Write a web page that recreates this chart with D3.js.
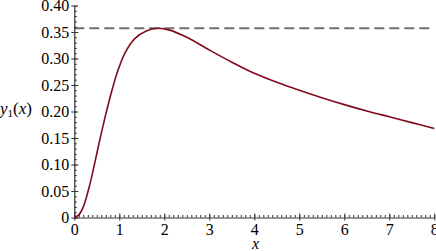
<!DOCTYPE html>
<html>
<head>
<meta charset="utf-8">
<script src="https://cdn.jsdelivr.net/npm/d3@7"></script>
<style>
  html, body { margin: 0; padding: 0; background: #fff; }
  svg { display: block; }
  svg text { font-family: "Liberation Serif", serif; }
</style>
</head>
<body>
<svg id="chart" width="436" height="251"></svg>
<script>
// values
var xs = [0, 0.1, 0.2, 0.35, 0.46, 0.57, 0.68, 0.79, 0.94, 1.13, 1.35, 1.6, 1.85, 2.1, 2.5, 3.0, 3.5, 4.0, 4.5, 5.0, 5.5, 6.0, 6.5, 7.0, 7.5, 8.0];
var ys = [0, 0.005, 0.020, 0.064, 0.105, 0.148, 0.188, 0.225, 0.270, 0.311, 0.338, 0.352, 0.357, 0.354, 0.340, 0.316, 0.293, 0.272, 0.255, 0.240, 0.226, 0.213, 0.201, 0.190, 0.179, 0.168];
var peakValue = 0.357;
var xTicks = [0, 1, 2, 3, 4, 5, 6, 7, 8];
var yTicks = [0, 0.05, 0.10, 0.15, 0.20, 0.25, 0.30, 0.35, 0.40];
var yTickLabels = ['0', '0.05', '0.10', '0.15', '0.20', '0.25', '0.30', '0.35', '0.40'];

var svg = d3.select('#chart');

var x = d3.scaleLinear().domain([0, 8]).range([74.3, 434.3]);
var y = d3.scaleLinear().domain([0, 0.4]).range([217.5, 5.5]);

// dashed line at the maximum
svg.append('line')
	.attr('x1', x(0)).attr('x2', x(8))
	.attr('y1', y(peakValue)).attr('y2', y(peakValue))
	.attr('stroke', '#707070')
	.attr('stroke-width', 2)
	.attr('stroke-dasharray', '10,5');

// minor ticks
var xMinor = d3.range(0, 80.5).map(function(i) { return i / 10; });
var yMinor = d3.range(0, 40.5).map(function(i) { return i / 100; });

svg.append('g')
	.attr('transform', 'translate(0,' + y(0) + ')')
	.call(d3.axisTop(x).tickValues(xMinor).tickSize(2.5).tickFormat(''))
	.call(function(g) { g.select('.domain').remove(); });

svg.append('g')
	.attr('transform', 'translate(' + x(0) + ',0)')
	.call(d3.axisRight(y).tickValues(yMinor).tickSize(2.5).tickFormat(''))
	.call(function(g) { g.select('.domain').remove(); });

// major ticks + labels
var xa = svg.append('g')
	.attr('transform', 'translate(0,' + y(0) + ')')
	.call(d3.axisBottom(x).tickValues(xTicks).tickSizeInner(3).tickSizeOuter(0).tickPadding(3.5).tickFormat(d3.format('d')));

var ya = svg.append('g')
	.attr('transform', 'translate(' + x(0) + ',0)')
	.call(d3.axisLeft(y).tickValues(yTicks).tickSizeInner(3).tickSizeOuter(0).tickPadding(2)
		.tickFormat(function(d, i) { return yTickLabels[i]; }));

xa.selectAll('line').attr('y1', -4);
ya.selectAll('line').attr('x1', 4);

svg.selectAll('g').attr('font-family', null).attr('font-size', null);
svg.selectAll('.tick line').attr('stroke', '#333');
svg.selectAll('.domain').attr('stroke', '#333').attr('stroke-width', 1.2);
svg.selectAll('.tick text')
	.attr('font-size', 16)
	.attr('fill', '#000');

// curve
var pts = xs.map(function(d, i) { return [d, ys[i]]; });
svg.append('path')
	.datum(pts)
	.attr('d', d3.line()
		.x(function(d) { return x(d[0]); })
		.y(function(d) { return y(d[1]); })
		.curve(d3.curveCatmullRom.alpha(0.5)))
	.attr('fill', 'none')
	.attr('stroke', '#800b1f')
	.attr('stroke-width', 1.6);

// axis titles
svg.append('text')
	.attr('x', 255.5).attr('y', 248.5)
	.attr('text-anchor', 'middle')
	.attr('font-size', 16)
	.attr('font-style', 'italic')
	.text('x');

var yl = svg.append('text')
	.attr('x', 0).attr('y', 114)
	.attr('font-size', 17);
yl.append('tspan').attr('font-style', 'italic').text('y');
yl.append('tspan').attr('font-size', 11).attr('dy', 3).text('1');
yl.append('tspan').attr('dy', -3).text('(');
yl.append('tspan').attr('font-style', 'italic').text('x');
yl.append('tspan').text(')');
</script>
</body>
</html>
